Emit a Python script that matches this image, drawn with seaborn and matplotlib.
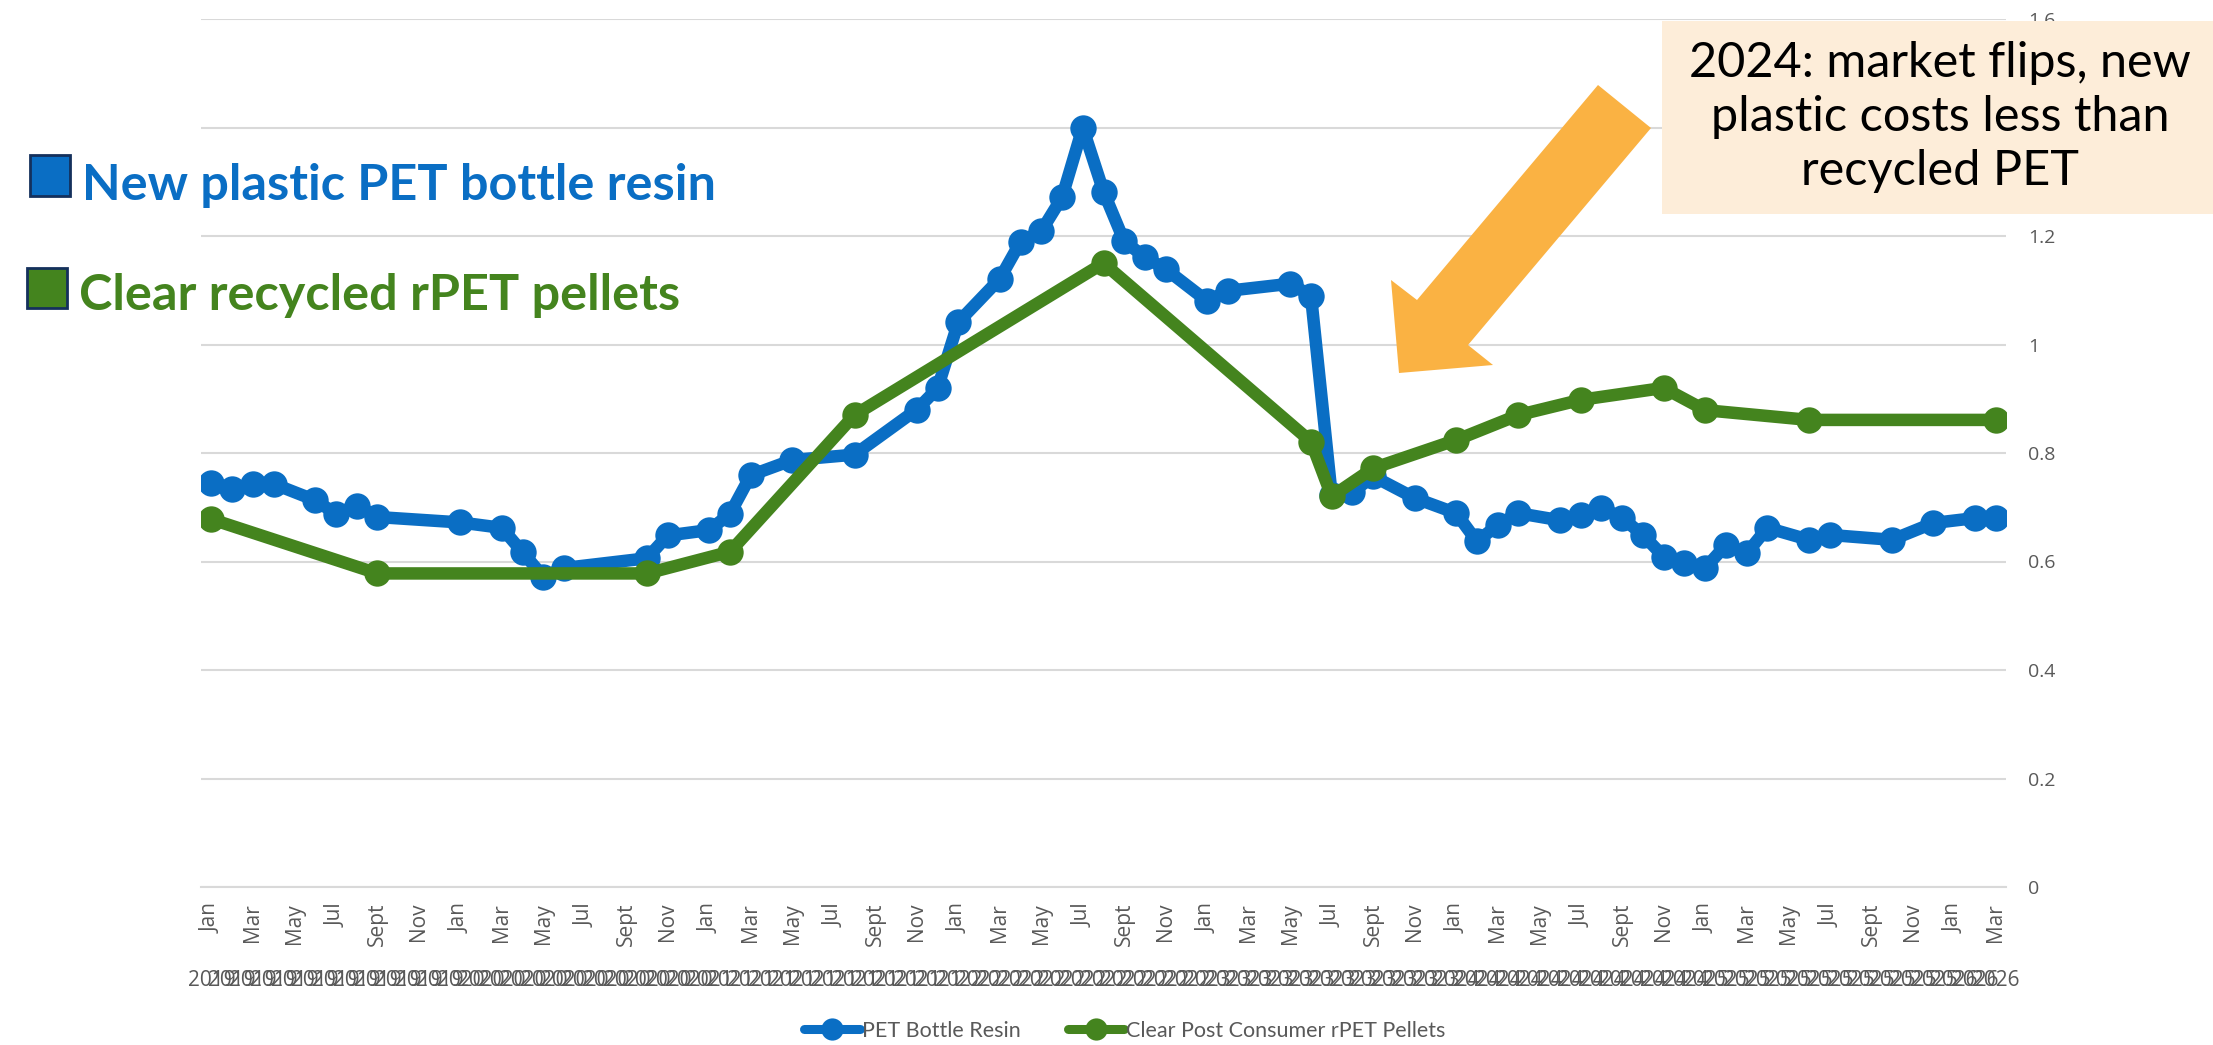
import numpy as np
import pandas as pd
import matplotlib.pyplot as plt
import matplotlib.transforms as mtransforms
import seaborn as sns
from matplotlib.patches import Polygon, Rectangle
from matplotlib.lines import Line2D
from matplotlib.ticker import FuncFormatter

#%% data (price per lb)
months = pd.period_range("2019-01", "2026-03", freq="M")
month_names = ["Jan", "Feb", "Mar", "Apr", "May", "Jun",
               "Jul", "Aug", "Sept", "Oct", "Nov", "Dec"]

# PET bottle resin
pet_dates = ["2019-01", "2019-02", "2019-03", "2019-04", "2019-06", "2019-07", "2019-08", "2019-09",
             "2020-01", "2020-03", "2020-04", "2020-05", "2020-06", "2020-10", "2020-11",
             "2021-01", "2021-02", "2021-03", "2021-05", "2021-08", "2021-11", "2021-12",
             "2022-01", "2022-03", "2022-04", "2022-05", "2022-06", "2022-07", "2022-08",
             "2022-09", "2022-10", "2022-11",
             "2023-01", "2023-02", "2023-05", "2023-06", "2023-07", "2023-08", "2023-09", "2023-11",
             "2024-01", "2024-02", "2024-03", "2024-04", "2024-06", "2024-07", "2024-08",
             "2024-09", "2024-10", "2024-11", "2024-12",
             "2025-01", "2025-02", "2025-03", "2025-04", "2025-06", "2025-07", "2025-10", "2025-12",
             "2026-02", "2026-03"]
pet_price = [0.745, 0.733, 0.743, 0.743, 0.713, 0.688, 0.703, 0.682,
             0.672, 0.662, 0.617, 0.572, 0.588, 0.606, 0.648,
             0.658, 0.688, 0.759, 0.787, 0.797, 0.880, 0.919,
             1.041, 1.121, 1.189, 1.209, 1.271, 1.400, 1.282,
             1.190, 1.161, 1.139,
             1.080, 1.099, 1.112, 1.090, 0.722, 0.728, 0.757, 0.717,
             0.689, 0.637, 0.667, 0.689, 0.676, 0.686, 0.699,
             0.680, 0.649, 0.609, 0.597,
             0.588, 0.630, 0.615, 0.662, 0.640, 0.649, 0.640, 0.671,
             0.680, 0.680]

# clear post consumer rPET pellets
rpet_dates = ["2019-01", "2019-09", "2020-10", "2021-02", "2021-08", "2022-08",
              "2023-06", "2023-07", "2023-09", "2024-01", "2024-04", "2024-07",
              "2024-11", "2025-01", "2025-06", "2026-03"]
rpet_price = [0.678, 0.578, 0.578, 0.618, 0.870, 1.150,
              0.821, 0.720, 0.772, 0.824, 0.870, 0.898,
              0.920, 0.879, 0.861, 0.861]

y_ticks = [0, 0.2, 0.4, 0.6, 0.8, 1.0, 1.2, 1.4, 1.6]

BLUE = "#0A6EC4"
GREEN = "#44841E"
GRID = "#D9D9D9"
LABEL = "#595959"

#%% helpers
W, H = 2213, 1045


def px(x, y):
    # pixel position (from top-left) -> figure fraction
    return x / W, 1 - y / H


def month_pos(dates):
    return [(pd.Period(d, freq="M") - months[0]).n for d in dates]


pet = pd.DataFrame({"pos": month_pos(pet_dates), "price": pet_price})
rpet = pd.DataFrame({"pos": month_pos(rpet_dates), "price": rpet_price})

#%% plot
sns.set_theme(style="white")
plt.rcParams["font.family"] = ["Lato", "DejaVu Sans"]

fig = plt.figure(figsize=(W / 100, H / 100), dpi=100)
l, b = px(201, 887)
r, t = px(2006, 19)
ax = fig.add_axes([l, b, r - l, t - b])

sns.lineplot(data=pet, x="pos", y="price", color=BLUE, linewidth=9, marker="o",
             markersize=19, markeredgewidth=0, ax=ax, legend=False)
sns.lineplot(data=rpet, x="pos", y="price", color=GREEN, linewidth=9, marker="o",
             markersize=19, markeredgewidth=0, ax=ax, legend=False)

ax.set_xlim(-0.5, len(months) - 0.5)
ax.set_ylim(0, 1.6)
ax.set_xlabel("")
ax.set_ylabel("")

# x axis: month labels every 2nd month, separators between months
ax.set_xticks(range(0, len(months), 2))
ax.set_xticklabels([month_names[m.month - 1] for m in months[::2]], fontfamily="Open Sans")
ax.set_xticks(np.arange(-0.5, len(months), 1), minor=True)
ax.tick_params(axis="x", which="major", length=0, pad=11.5, labelsize=15,
               labelcolor=LABEL, labelrotation=90)
ax.tick_params(axis="x", which="minor", length=81, width=1.5, color=GRID, direction="out")

trans = mtransforms.blended_transform_factory(ax.transData, ax.transAxes)
for i, m in enumerate(months):
    ax.text(i, -0.108, str(m.year), transform=trans, ha="center", va="center",
            fontsize=15, color=LABEL, fontfamily="Open Sans", clip_on=False)

# y axis on the right
ax.yaxis.tick_right()
ax.set_yticks(y_ticks)
ax.yaxis.set_major_formatter(FuncFormatter(lambda v, p: f"{round(v, 1):g}"))
ax.tick_params(axis="y", length=0, pad=16, labelsize=14, labelcolor=LABEL)
for lbl in ax.get_yticklabels():
    lbl.set_fontfamily("Open Sans")
ax.yaxis.grid(True, color=GRID, linewidth=1.5)
ax.xaxis.grid(False)
for s in ["top", "left", "right"]:
    ax.spines[s].set_visible(False)
ax.spines["bottom"].set_color(GRID)
ax.spines["bottom"].set_linewidth(1.5)

# bottom legend
handles = [Line2D([0], [0], color=BLUE, lw=6.5, marker="o", markersize=16, markeredgewidth=0),
           Line2D([0], [0], color=GREEN, lw=6.5, marker="o", markersize=16, markeredgewidth=0)]
fig.legend(handles, ["PET Bottle Resin", "Clear Post Consumer rPET Pellets"],
           loc="center", bbox_to_anchor=px(1125, 1031), ncol=2, frameon=False,
           prop=dict(family="Lato", size=15.5), labelcolor=LABEL,
           handlelength=2.6, handletextpad=0.1, columnspacing=2.2)

# top-left colour key
fig.patches.append(Rectangle(px(30, 196), 40 / W, 41 / H, transform=fig.transFigure,
                             facecolor=BLUE, edgecolor="#14305C", lw=2))
fig.text(*px(82, 200), "New plastic PET bottle resin", ha="left", va="baseline",
         fontsize=36.3, fontweight="bold", color=BLUE, fontfamily="Lato")
fig.patches.append(Rectangle(px(27, 308), 40 / W, 40 / H, transform=fig.transFigure,
                             facecolor=GREEN, edgecolor="#14305C", lw=2))
fig.text(*px(79, 310), "Clear recycled rPET pellets", ha="left", va="baseline",
         fontsize=36.3, fontweight="bold", color=GREEN, fontfamily="Lato")

# annotation box + arrow
fig.patches.append(Rectangle(px(1662, 214), (W - 1662) / W, 193 / H,
                             transform=fig.transFigure, facecolor="#FDEDD9", lw=0))
fig.text(*px(1940, 117), "2024: market flips, new\nplastic costs less than\nrecycled PET",
         ha="center", va="center", fontsize=35, color="black", fontfamily="Lato",
         linespacing=1.28)
arrow_px = [(1598, 85), (1651, 128), (1468, 345), (1493, 365),
            (1399, 373), (1391, 280), (1417, 300)]
fig.patches.append(Polygon([px(x, y) for x, y in arrow_px], closed=True,
                           transform=fig.transFigure, facecolor="#FAB243", lw=0))

fig.savefig("out.png", dpi=100)
